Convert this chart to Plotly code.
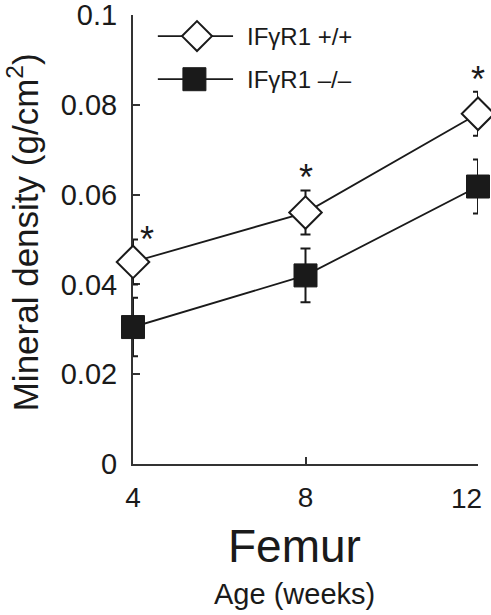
import plotly.graph_objects as go

# ---- data ----
ages = [4, 8, 12]
wt_mean = [0.0450, 0.0560, 0.0780]
wt_err = [0.0050, 0.0049, 0.0049]
ko_mean = [0.0305, 0.0420, 0.0618]
ko_err = [0.0065, 0.0060, 0.0060]
wt_name = "IFγR1 +/+"
ko_name = "IFγR1 –/–"
y_ticks = [0, 0.02, 0.04, 0.06, 0.08, 0.1]
y_ticktext = ["0", "0.02", "0.04", "0.06", "0.08", "0.1"]
x_ticks = [4, 8, 12]
x_ticktext = ["4", "8", "12"]
signif = ["*", "*", "*"]

FONT = "Liberation Sans, Arial, Helvetica, sans-serif"
INK = "#1a1a1a"

fig = go.Figure()

fig.add_trace(go.Scatter(
    x=ages, y=ko_mean, name=ko_name, mode="lines+markers",
    line=dict(color=INK, width=1.8),
    marker=dict(symbol="square", size=23, color=INK, line=dict(color=INK, width=1)),
    error_y=dict(type="data", array=ko_err, visible=True, color=INK, thickness=2, width=5),
    cliponaxis=False, showlegend=False,
))
fig.add_trace(go.Scatter(
    x=ages, y=wt_mean, name=wt_name, mode="lines+markers",
    line=dict(color=INK, width=1.8),
    marker=dict(symbol="diamond", size=25, color="white", line=dict(color=INK, width=2)),
    error_y=dict(type="data", array=wt_err, visible=True, color=INK, thickness=2, width=5),
    cliponaxis=False, showlegend=False,
))

# custom legend samples on a hidden overlay axis (paper-like 0..1)
leg_y = [0.953, 0.857]
fig.add_trace(go.Scatter(x=[0.072, 0.29], y=[leg_y[0]] * 2, xaxis="x2", yaxis="y2",
                         mode="lines", line=dict(color=INK, width=1.8), showlegend=False, hoverinfo="skip"))
fig.add_trace(go.Scatter(x=[0.1855], y=[leg_y[0]], xaxis="x2", yaxis="y2", mode="markers",
                         marker=dict(symbol="diamond", size=23, color="white", line=dict(color=INK, width=2)),
                         showlegend=False, hoverinfo="skip"))
fig.add_trace(go.Scatter(x=[0.072, 0.29], y=[leg_y[1]] * 2, xaxis="x2", yaxis="y2",
                         mode="lines", line=dict(color=INK, width=1.8), showlegend=False, hoverinfo="skip"))
fig.add_trace(go.Scatter(x=[0.178], y=[leg_y[1]], xaxis="x2", yaxis="y2", mode="markers",
                         marker=dict(symbol="square", size=23, color=INK, line=dict(color=INK, width=1)),
                         showlegend=False, hoverinfo="skip"))

annotations = []
for name, yy in [(wt_name, leg_y[0]), (ko_name, leg_y[1])]:
    annotations.append(dict(x=0.3246, y=yy, xref="paper", yref="paper", text=name,
                            showarrow=False, xanchor="left", yanchor="middle",
                            font=dict(family=FONT, size=24, color=INK)))

# significance asterisks
shifts = [(14, -22), (0, -9), (0, -10)]
for x, m, e, s, (dx, dy) in zip(ages, wt_mean, wt_err, signif, shifts):
    annotations.append(dict(x=x, y=m + e, xref="x", yref="y", text=s, showarrow=False,
                            xanchor="center", yanchor="bottom", xshift=dx, yshift=dy,
                            font=dict(family=FONT, size=36, color=INK)))

# last x tick label sits flush with the right edge (as in the reference), drawn as text
annotations.append(dict(x=x_ticks[-1], y=0, xref="x", yref="y", text=x_ticktext[-1],
                        showarrow=False, xanchor="right", yanchor="top", xshift=6, yshift=-17,
                        font=dict(family=FONT, size=28, color=INK)))

annotations += [
    dict(x=0.467, y=-0.1826, xref="paper", yref="paper", text="Femur", showarrow=False,
         xanchor="center", yanchor="middle", font=dict(family=FONT, size=46, color=INK)),
    dict(x=0.467, y=-0.29, xref="paper", yref="paper", text="Age (weeks)", showarrow=False,
         xanchor="center", yanchor="middle", font=dict(family=FONT, size=29, color=INK)),
    dict(x=-0.318, y=0.5167, xref="paper", yref="paper",
         text="Mineral density (g/cm<sup>2</sup>)", showarrow=False, textangle=-90,
         xanchor="center", yanchor="middle", font=dict(family=FONT, size=35, color=INK)),
]

fig.update_layout(
    width=491, height=615,
    margin=dict(l=133, r=13, t=15, b=151, autoexpand=False),
    paper_bgcolor="white", plot_bgcolor="white",
    showlegend=False,
    annotations=annotations,
    xaxis=dict(range=[4, 12], tickvals=x_ticks, ticktext=x_ticktext[:-1] + [""], automargin=False,
               showgrid=False, zeroline=False, showline=True, linecolor="#333", linewidth=2,
               ticks="inside", ticklen=7, tickwidth=2, tickcolor="#333",
               tickfont=dict(family=FONT, size=28, color=INK), ticklabelstandoff=7,
               ticklabeloverflow="allow", layer="below traces", fixedrange=True),
    yaxis=dict(range=[0, 0.1], tickvals=y_ticks, ticktext=y_ticktext, automargin=False,
               showgrid=False, zeroline=False, showline=True, linecolor="#333", linewidth=2,
               ticks="inside", ticklen=7, tickwidth=2, tickcolor="#333",
               tickfont=dict(family=FONT, size=29, color=INK), ticklabelstandoff=8,
               ticklabeloverflow="allow", layer="below traces", fixedrange=True),
    xaxis2=dict(domain=[0, 1], range=[0, 1], overlaying="x", visible=False, fixedrange=True),
    yaxis2=dict(domain=[0, 1], range=[0, 1], overlaying="y", visible=False, fixedrange=True),
)

fig.write_html("out.html", config={"displayModeBar": False},
               post_script="document.body.style.margin='0';")
